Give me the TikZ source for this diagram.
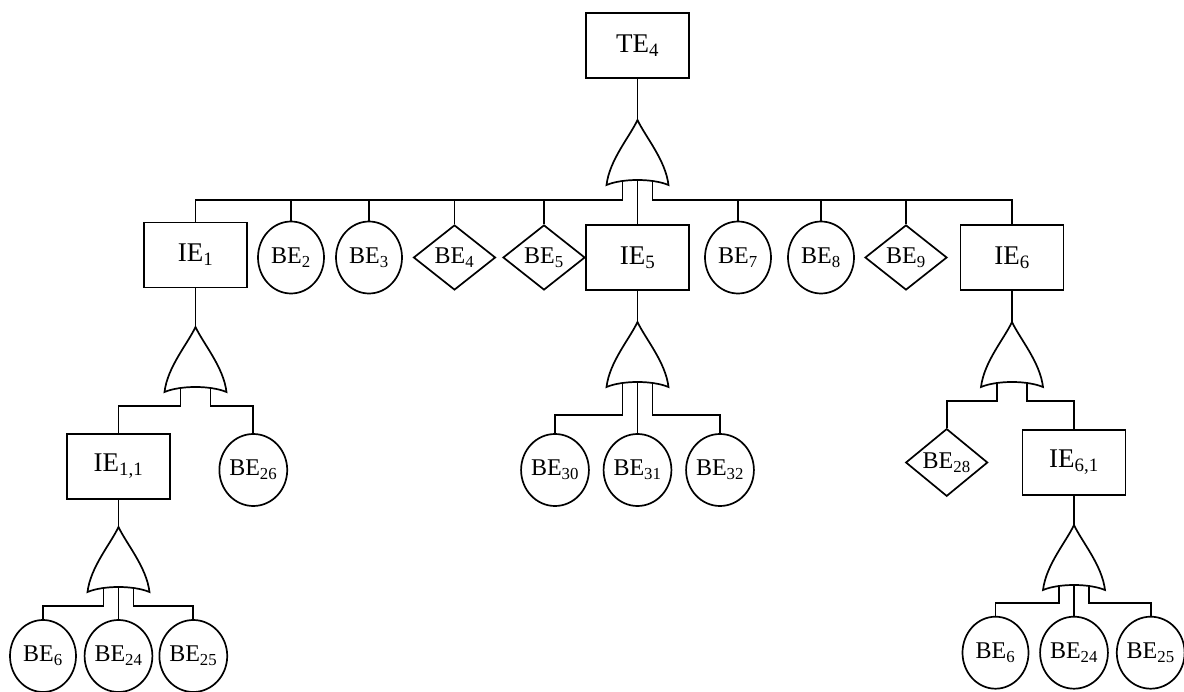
\documentclass[tikz,border=0pt]{standalone}
\usepackage{fontspec}
\setmainfont{Liberation Serif}
\usetikzlibrary{shapes.geometric}
\begin{document}
\begin{tikzpicture}[x=1pt,y=-1pt,line width=1.7pt,
  evbox/.style={draw,rectangle,minimum width=103pt,minimum height=65pt,inner sep=0pt,
    font=\fontsize{27}{30}\selectfont},
  basic/.style={draw,ellipse,minimum width=66pt,minimum height=72pt,inner sep=0pt,
    font=\fontsize{24}{26}\selectfont},
  undev/.style={draw,diamond,minimum width=82pt,minimum height=65pt,inner sep=0pt,
    font=\fontsize{24}{26}\selectfont},
  orgate/.pic={
    \draw (0,0) .. controls (-8,17) and (-28,40) .. (-31,65)
      .. controls (-15,58.33) and (15,58.33) .. (31,65)
      .. controls (28,40) and (8,17) .. cycle;
    \coordinate (-apex) at (0,0);
    \coordinate (-l) at (-15,61.2);
    \coordinate (-c) at (0,60);
    \coordinate (-r) at (15,61.2);
  }]
\useasboundingbox (0,0) rectangle (1184,692);

% top event and its OR gate
\node[evbox] (te4) at (637.5,45.5) {TE\textsubscript{4}};
\pic (g0) at (637.5,120) {orgate};
\coordinate (bus0) at (0,200);

% first level
\node[evbox] (ie1) at (195.5,255) {IE\textsubscript{1}};
\node[basic] (be2) at (291,257.5) {BE\textsubscript{2}};
\node[basic] (be3) at (369,257.5) {BE\textsubscript{3}};
\node[undev] (be4) at (454.5,257.5) {BE\textsubscript{4}};
\node[undev] (be5) at (544,257.5) {BE\textsubscript{5}};
\node[evbox] (ie5) at (637.5,257.5) {IE\textsubscript{5}};
\node[basic] (be7) at (738,257.5) {BE\textsubscript{7}};
\node[basic] (be8) at (821,257.5) {BE\textsubscript{8}};
\node[undev] (be9) at (906,257.5) {BE\textsubscript{9}};
\node[evbox] (ie6) at (1012,257.5) {IE\textsubscript{6}};

\draw (te4.south) -- (g0-apex);
\draw (g0-l) -- (g0-l |- bus0) -| (ie1.north);
\draw (g0-r) -- (g0-r |- bus0) -| (ie6.north);
\draw (g0-c) -- (g0-c |- ie5.north);
\foreach \n in {be2,be3,be4,be5,be7,be8,be9}
  \draw (\n.north) -- (\n.north |- bus0);

% IE1 branch
\pic (g1) at (195.5,327) {orgate};
\coordinate (bus1) at (0,406);
\node[evbox] (ie11) at (118.5,466.5) {IE\textsubscript{1,1}};
\node[basic] (be26) at (253.3,470) {BE\textsubscript{26}};
\draw (ie1.south) -- (g1-apex);
\draw (g1-l) -- (g1-l |- bus1) -| (ie11.north);
\draw (g1-r) -- (g1-r |- bus1) -| (be26.north);

% IE1,1 branch
\pic (g2) at (118.5,527) {orgate};
\coordinate (bus2) at (0,606);
\node[basic] (be6a) at (43,656) {BE\textsubscript{6}};
\node[basic] (be24a) at (118.5,656) {BE\textsubscript{24}};
\node[basic] (be25a) at (193.3,656) {BE\textsubscript{25}};
\draw (ie11.south) -- (g2-apex);
\draw (g2-l) -- (g2-l |- bus2) -| (be6a.north);
\draw (g2-c) -- (be24a.north);
\draw (g2-r) -- (g2-r |- bus2) -| (be25a.north);

% IE5 branch
\pic (g3) at (637.5,322) {orgate};
\coordinate (bus3) at (0,415);
\node[basic] (be30) at (555,470) {BE\textsubscript{30}};
\node[basic] (be31) at (637.5,470) {BE\textsubscript{31}};
\node[basic] (be32) at (720,470) {BE\textsubscript{32}};
\draw (ie5.south) -- (g3-apex);
\draw (g3-l) -- (g3-l |- bus3) -| (be30.north);
\draw (g3-c) -- (be31.north);
\draw (g3-r) -- (g3-r |- bus3) -| (be32.north);

% IE6 branch
\pic (g4) at (1012,322) {orgate};
\coordinate (bus4) at (0,401);
\node[undev] (be28) at (946.7,462.5) {BE\textsubscript{28}};
\node[evbox] (ie61) at (1074,462.5) {IE\textsubscript{6,1}};
\draw (ie6.south) -- (g4-apex);
\draw (g4-l) -- (g4-l |- bus4) -| (be28.north);
\draw (g4-r) -- (g4-r |- bus4) -| (ie61.north);

% IE6,1 branch
\pic (g5) at (1074,525) {orgate};
\coordinate (bus5) at (0,603.3);
\node[basic] (be6b) at (995.5,652.7) {BE\textsubscript{6}};
\node[basic] (be24b) at (1074,652.7) {BE\textsubscript{24}};
\node[basic] (be25b) at (1150.7,652.7) {BE\textsubscript{25}};
\draw (ie61.south) -- (g5-apex);
\draw (g5-l) -- (g5-l |- bus5) -| (be6b.north);
\draw (g5-c) -- (be24b.north);
\draw (g5-r) -- (g5-r |- bus5) -| (be25b.north);
\end{tikzpicture}
\end{document}
